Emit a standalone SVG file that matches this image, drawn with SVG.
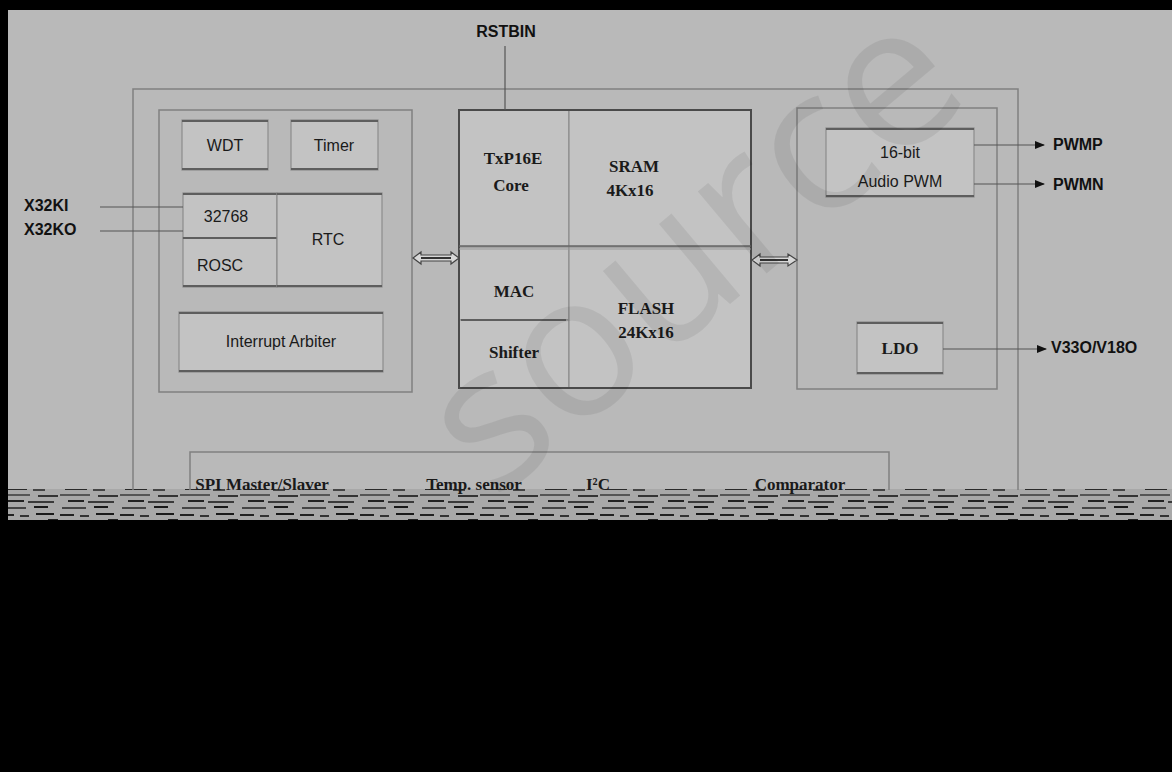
<svg xmlns="http://www.w3.org/2000/svg" width="1172" height="772" viewBox="0 0 1172 772">
<defs>
<style>
.frame{fill:none;stroke:#808080;stroke-width:1.5}
.box{fill:#c3c3c3;stroke:#8c8c8c;stroke-width:1.2}
.edge{stroke:#5e5e5e;stroke-width:2.2}
.t{font-family:"Liberation Sans",Arial,sans-serif;font-size:16px;fill:#1a1a1a;text-anchor:middle}
.ts{font-family:"Liberation Serif","Times New Roman",serif;font-size:17px;font-weight:bold;fill:#1a1a1a;text-anchor:middle}
.tb{font-family:"Liberation Sans",Arial,sans-serif;font-size:16px;font-weight:bold;fill:#111}
.line{stroke:#555;stroke-width:1.2;fill:none}
.wm{font-family:"Open Sans","Noto Sans",sans-serif;font-size:200px;fill:#000;fill-opacity:0.07}
</style>
<marker id="ah" viewBox="0 0 10 10" refX="9" refY="5" markerWidth="10" markerHeight="10" markerUnits="userSpaceOnUse" orient="auto">
<path d="M0,1 L10,5 L0,9 Z" fill="#111"/>
</marker>
<pattern id="noise" width="60" height="32" patternUnits="userSpaceOnUse">
<rect width="60" height="32" fill="#a8a8a8"/>
<rect x="0" y="2" width="14" height="2" fill="#222"/>
<rect x="20" y="3" width="9" height="2" fill="#333"/>
<rect x="36" y="1" width="18" height="2" fill="#1a1a1a"/>
<rect x="5" y="8" width="22" height="2" fill="#2a2a2a"/>
<rect x="33" y="9" width="12" height="2" fill="#444"/>
<rect x="48" y="7" width="10" height="2" fill="#222"/>
<rect x="0" y="14" width="30" height="2" fill="#555"/>
<rect x="38" y="15" width="20" height="2" fill="#333"/>
<rect x="8" y="20" width="16" height="2" fill="#222"/>
<rect x="28" y="21" width="26" height="2" fill="#3a3a3a"/>
<rect x="2" y="27" width="24" height="2" fill="#444"/>
<rect x="34" y="26" width="14" height="2" fill="#1a1a1a"/>
</pattern>
</defs>
<rect x="0" y="0" width="1172" height="772" fill="#000"/>
<rect x="8" y="10" width="1164" height="480" fill="#b9b9b9"/>
<rect x="8" y="489" width="1164" height="31" fill="url(#noise)"/>

<g id="frames">
<path class="frame" d="M133,490 V89 H1018 V490"/>
<rect class="frame" x="159" y="110" width="253" height="282"/>
<rect class="frame" x="797" y="108" width="200" height="281"/>
<path class="frame" d="M190,490 V452 H889 V490"/>
</g>

<g id="wdt"><rect class="box" x="182" y="120" width="86" height="50"/><line class="edge" x1="182" y1="121" x2="268" y2="121"/><line class="edge" x1="182" y1="169" x2="268" y2="169"/><text class="t" x="225" y="151">WDT</text></g>
<g id="timer"><rect class="box" x="291" y="120" width="87" height="50"/><line class="edge" x1="291" y1="121" x2="378" y2="121"/><line class="edge" x1="291" y1="169" x2="378" y2="169"/><text class="t" x="334" y="151">Timer</text></g>
<g id="osc32768"><rect class="box" x="183" y="193" width="94" height="45"/><line class="edge" x1="183" y1="194" x2="382" y2="194"/><text class="t" x="226" y="222">32768</text></g>
<g id="rosc"><rect class="box" x="183" y="238" width="94" height="49"/><line class="edge" x1="183" y1="238" x2="277" y2="238"/><line class="edge" x1="183" y1="286" x2="382" y2="286"/><text class="t" x="220" y="271">ROSC</text></g>
<g id="rtc"><rect class="box" x="277" y="193" width="105" height="94"/><line class="edge" x1="277" y1="194" x2="382" y2="194"/><line class="edge" x1="277" y1="286" x2="382" y2="286"/><text class="t" x="328" y="245">RTC</text></g>
<g id="irq"><rect class="box" x="179" y="312" width="204" height="60"/><line class="edge" x1="179" y1="313" x2="383" y2="313"/><line class="edge" x1="179" y1="371" x2="383" y2="371"/><text class="t" x="281" y="347">Interrupt Arbiter</text></g>

<g id="core"><rect class="box" x="459" y="110" width="110" height="137"/><text class="ts" x="513" y="164">TxP16E</text><text class="ts" x="511" y="191">Core</text></g>
<g id="sram"><rect class="box" x="569" y="110" width="182" height="137"/><text class="ts" x="634" y="172">SRAM</text><text class="ts" x="630" y="196">4Kx16</text></g>
<g id="mac"><rect class="box" x="459" y="247" width="110" height="73"/><text class="ts" x="514" y="297">MAC</text></g>
<g id="shifter"><rect class="box" x="459" y="320" width="110" height="68"/><line class="edge" x1="461" y1="320" x2="566" y2="320"/><text class="ts" x="514" y="358">Shifter</text></g>
<g id="flash"><rect class="box" x="569" y="247" width="182" height="141"/><text class="ts" x="646" y="314">FLASH</text><text class="ts" x="646" y="338">24Kx16</text></g>
<g id="cpu-outline"><rect x="459" y="110" width="292" height="278" fill="none" stroke="#4a4a4a" stroke-width="2"/><line x1="459" y1="246" x2="751" y2="246" stroke="#666" stroke-width="1.5"/><line x1="459" y1="249" x2="751" y2="249" stroke="#999" stroke-width="1"/></g>

<g id="pwm"><rect class="box" x="826" y="128" width="148" height="69"/><line class="edge" x1="826" y1="129" x2="974" y2="129"/><line class="edge" x1="826" y1="196" x2="974" y2="196"/><text class="t" x="900" y="158">16-bit</text><text class="t" x="900" y="187">Audio PWM</text></g>
<g id="ldo"><rect class="box" x="857" y="322" width="86" height="52"/><line class="edge" x1="857" y1="323" x2="943" y2="323"/><line class="edge" x1="857" y1="373" x2="943" y2="373"/><text class="ts" x="900" y="354">LDO</text></g>

<g id="bus">
<text class="ts" x="262" y="490">SPI Master/Slaver</text>
<text class="ts" x="474" y="490">Temp. sensor</text>
<text class="ts" x="598" y="490">I²C</text>
<text class="ts" x="800" y="490">Comparator</text>
</g>

<g id="labels">
<text class="tb" x="506" y="37" text-anchor="middle">RSTBIN</text>
<text class="tb" x="24" y="211">X32KI</text>
<text class="tb" x="24" y="235">X32KO</text>
<text class="tb" x="1053" y="150">PWMP</text>
<text class="tb" x="1053" y="190">PWMN</text>
<text class="tb" x="1051" y="353">V33O/V18O</text>
</g>

<g id="connectors">
<line class="line" x1="505" y1="46" x2="505" y2="110"/>
<line class="line" x1="100" y1="207" x2="183" y2="207"/>
<line class="line" x1="100" y1="231" x2="183" y2="231"/>
<line class="line" x1="974" y1="145" x2="1044" y2="145" marker-end="url(#ah)"/>
<line class="line" x1="974" y1="184" x2="1044" y2="184" marker-end="url(#ah)"/>
<line class="line" x1="943" y1="349" x2="1046" y2="349" marker-end="url(#ah)"/>
<g fill="#d8d8d8" stroke="#444" stroke-width="1.2">
<path d="M413,258 L421,252 L421,255 L451,255 L451,252 L459,258 L451,264 L451,261 L421,261 L421,264 Z"/>
<path d="M752,260 L760,254 L760,257 L788,257 L788,254 L797,260 L788,266 L788,263 L760,263 L760,266 Z"/>
</g>
<line x1="421" y1="258" x2="451" y2="258" stroke="#333" stroke-width="2"/>
<line x1="760" y1="260" x2="788" y2="260" stroke="#333" stroke-width="2"/>
</g>

<text class="wm" x="735" y="300" text-anchor="middle" transform="rotate(-40 735 300)">source</text>
<rect x="0" y="520" width="1172" height="252" fill="#000"/>
</svg>
